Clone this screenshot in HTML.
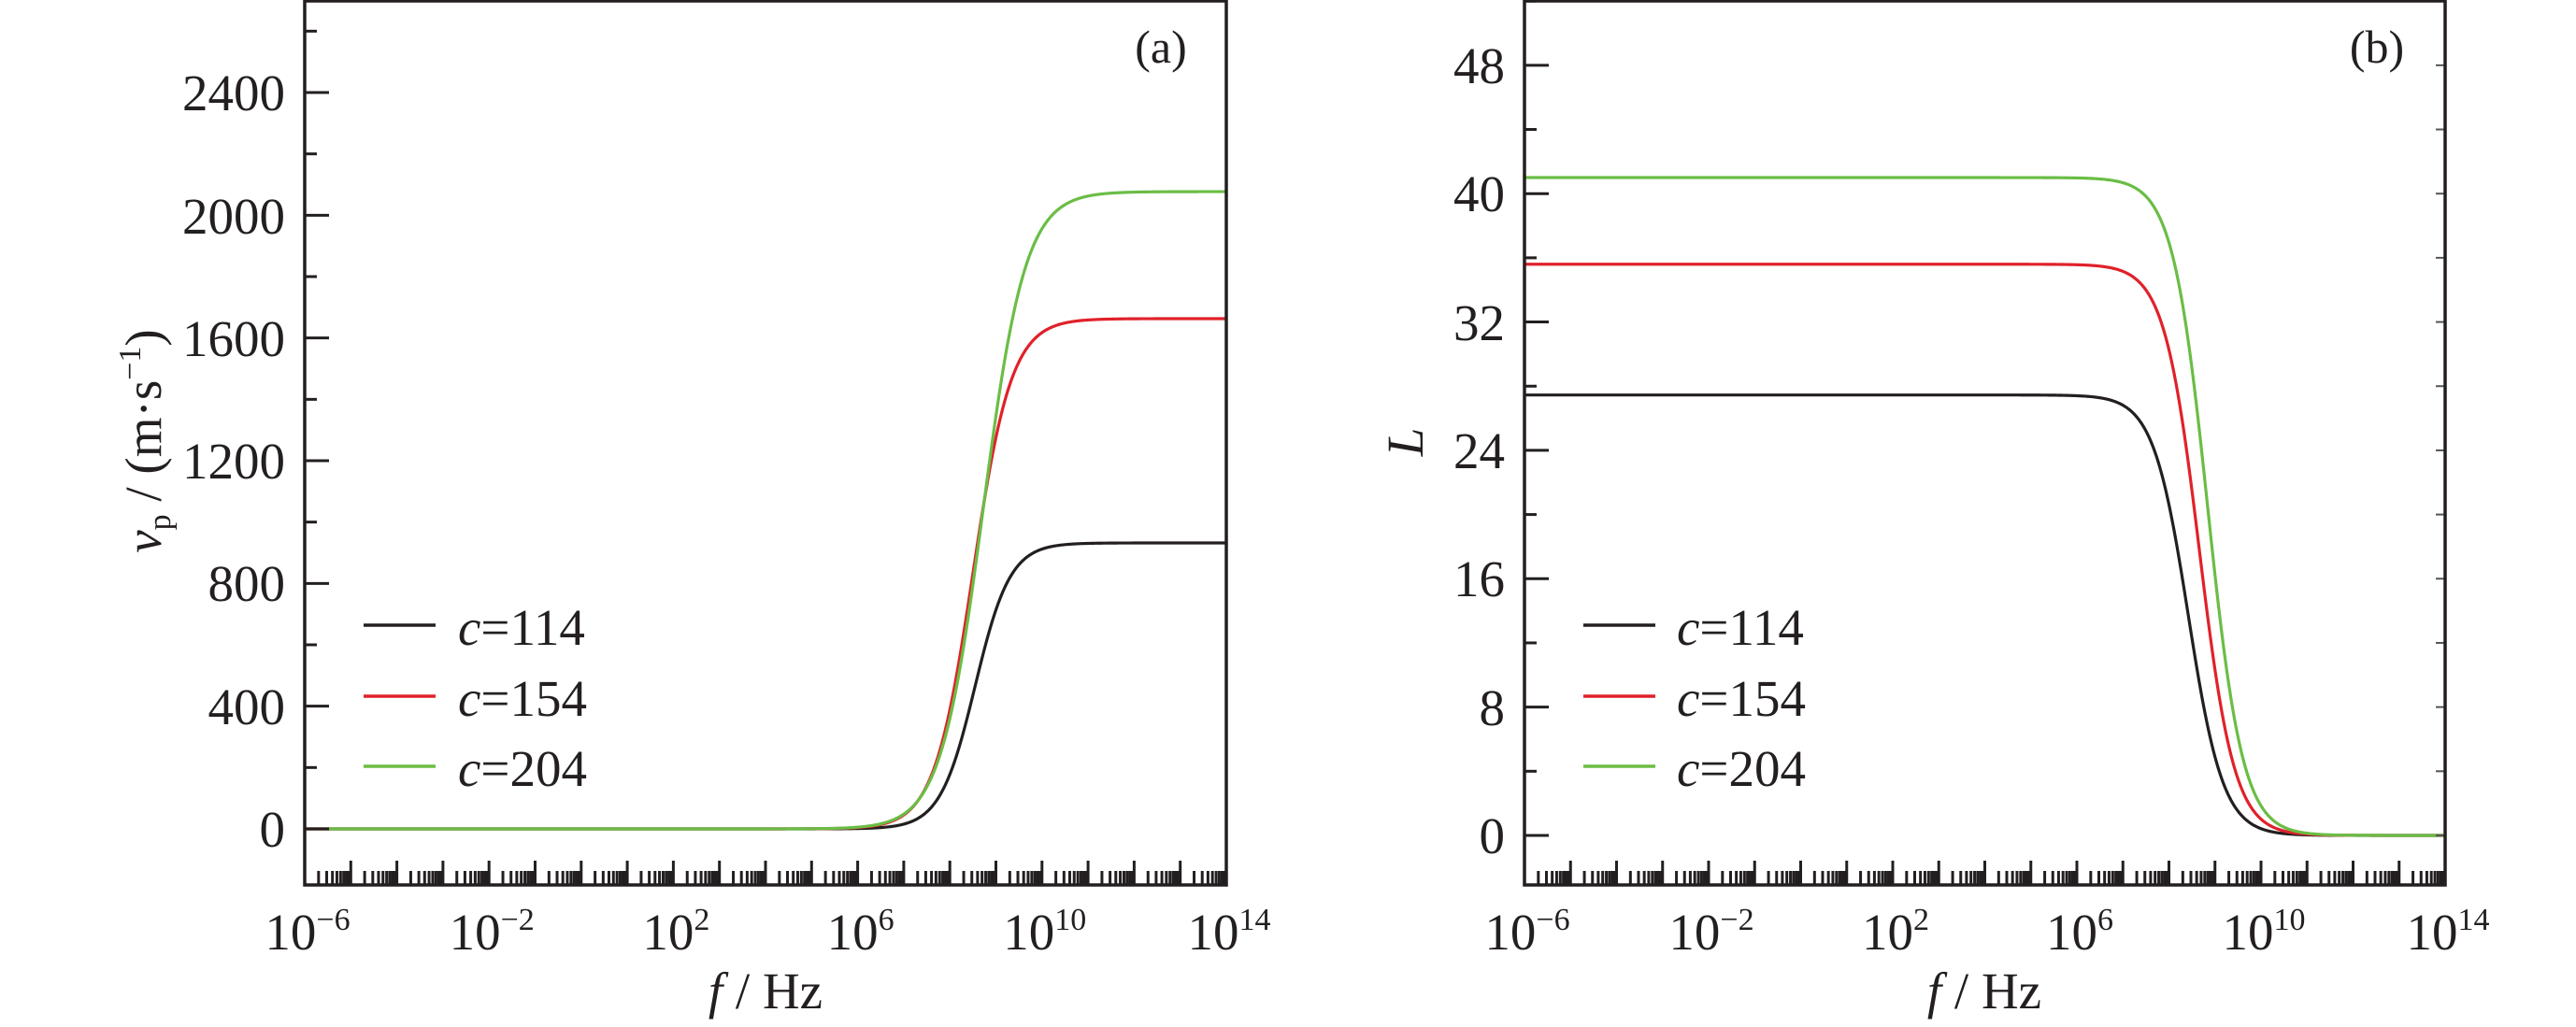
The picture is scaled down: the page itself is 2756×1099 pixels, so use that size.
<!DOCTYPE html>
<html><head><meta charset="utf-8"><style>
html,body{margin:0;padding:0;background:#fff;}
svg{display:block;}
text{font-family:"Liberation Serif","Times New Roman",serif;fill:#231f20;}
</style></head><body>
<svg id="s" width="2756" height="1099" xmlns="http://www.w3.org/2000/svg">
<g font-size="55">
<text x="305" y="906" text-anchor="end">0</text>
<text x="305" y="775" text-anchor="end">400</text>
<text x="305" y="643" text-anchor="end">800</text>
<text x="305" y="512" text-anchor="end">1200</text>
<text x="305" y="381" text-anchor="end">1600</text>
<text x="305" y="250" text-anchor="end">2000</text>
<text x="305" y="118" text-anchor="end">2400</text>
<text transform="translate(172,472) rotate(-90)" text-anchor="middle"><tspan font-style="italic">v</tspan><tspan font-size="34" dy="10">p</tspan><tspan dy="-10"> / (m·s</tspan><tspan font-size="34" dy="-22">−1</tspan><tspan dy="22">)</tspan></text>
<text x="819" y="1079" text-anchor="middle"><tspan font-style="italic">f</tspan> / Hz</text>
<text x="1242" y="67" text-anchor="middle" font-size="50">(a)</text>
<text x="1610" y="913" text-anchor="end">0</text>
<text x="1610" y="776" text-anchor="end">8</text>
<text x="1610" y="638" text-anchor="end">16</text>
<text x="1610" y="501" text-anchor="end">24</text>
<text x="1610" y="364" text-anchor="end">32</text>
<text x="1610" y="226" text-anchor="end">40</text>
<text x="1610" y="89" text-anchor="end">48</text>
<text transform="translate(1522,473) rotate(-90)" text-anchor="middle" font-style="italic">L</text>
<text x="2123" y="1079" text-anchor="middle"><tspan font-style="italic">f</tspan> / Hz</text>
<text x="2543" y="67" text-anchor="middle" font-size="50">(b)</text>
<text x="490" y="690"><tspan font-style="italic">c</tspan>=114</text>
<text x="490" y="766"><tspan font-style="italic">c</tspan>=154</text>
<text x="490" y="841"><tspan font-style="italic">c</tspan>=204</text>
<text x="1794" y="690"><tspan font-style="italic">c</tspan>=114</text>
<text x="1794" y="766"><tspan font-style="italic">c</tspan>=154</text>
<text x="1794" y="841"><tspan font-style="italic">c</tspan>=204</text>
</g>
<g stroke-width="3.5">
<line x1="389" y1="669" x2="466" y2="669" stroke="#231f20"/>
<line x1="389" y1="745" x2="466" y2="745" stroke="#e0212a"/>
<line x1="389" y1="820" x2="466" y2="820" stroke="#6abd45"/>
<line x1="1694" y1="669" x2="1771" y2="669" stroke="#231f20"/>
<line x1="1694" y1="745" x2="1771" y2="745" stroke="#e0212a"/>
<line x1="1694" y1="820" x2="1771" y2="820" stroke="#6abd45"/>
</g>
<g id="dyn"></g>
</svg>
<script>
(function(){
var NS="http://www.w3.org/2000/svg",g=document.getElementById("dyn");
function el(n,a){var e=document.createElementNS(NS,n);for(var k in a)e.setAttribute(k,a[k]);g.appendChild(e);return e;}
function txt(x,y,base,exp){
  var t=document.createElementNS(NS,"text");t.setAttribute("x",x);t.setAttribute("y",y);t.setAttribute("text-anchor","middle");t.setAttribute("font-size","55");
  var a=document.createElementNS(NS,"tspan");a.textContent=base;t.appendChild(a);
  var b=document.createElementNS(NS,"tspan");b.setAttribute("font-size","34");b.setAttribute("dy","-21");b.textContent=exp;t.appendChild(b);
  g.appendChild(t);
}
function panel(L,R,yfun,vmax,major,minor,curves,rightTicks){
  var T=1,B=947,dec=(R-L)/20;
  function X(u){return L+(u+6)*dec;}
  curves.forEach(function(c){
    var d="";
    for(var i=0;i<=800;i++){var u=-6+20*i/800;var v=c.f(u);d+=(i?"L":"M")+X(u).toFixed(2)+","+yfun(v).toFixed(2);}
    el("path",{d:d,fill:"none",stroke:c.col,"stroke-width":"3.2"});
  });
  for(var v=0;v<=vmax;v+=minor){
    var y=yfun(v),isM=Math.abs(v/major-Math.round(v/major))<1e-6;
    el("line",{x1:L,y1:y,x2:L+(isM?26:13),y2:y,stroke:"#231f20","stroke-width":"3"});
    if(rightTicks) el("line",{x1:R,y1:y,x2:R-10,y2:y,stroke:"#555","stroke-width":"2"});
  }
  for(var u=-6;u<14;u++){
    for(var k=1;k<10;k++){
      var x=L+(u+6+Math.log10(k))*dec;
      el("line",{x1:x,y1:B,x2:x,y2:B-(k==1?26:15),stroke:"#231f20","stroke-width":"3"});
    }
  }
  el("line",{x1:R,y1:B,x2:R,y2:B-26,stroke:"#231f20","stroke-width":"3"});
  [-6,-2,2,6,10,14].forEach(function(u){txt(X(u)+3,1016,"10",u<0?"−"+(-u):""+u);});
  el("rect",{x:L,y:T,width:R-L,height:B-T,fill:"none",stroke:"#231f20","stroke-width":"3.5"});
}
function lg(vm,u0,s){return function(u){return vm/(1+Math.exp(-(u-u0)/s));};}
function ld(vm,u0,s){return function(u){return vm/(1+Math.exp((u-u0)/s));};}
panel(326,1312,function(v){return 887-v*0.32833;},2700,400,200,[
  {col:"#231f20",f:lg(932,8.55,0.38)},
  {col:"#e0212a",f:lg(1663,8.5,0.42)},
  {col:"#6abd45",f:lg(2077,8.72,0.46)}],false);
panel(1631,2616,function(v){return 894-v*17.17;},52,8,4,[
  {col:"#231f20",f:ld(27.45,8.42,0.38)},
  {col:"#e0212a",f:ld(35.6,8.66,0.38)},
  {col:"#6abd45",f:ld(41,8.84,0.38)}],true);
})();
</script>
</body></html>
